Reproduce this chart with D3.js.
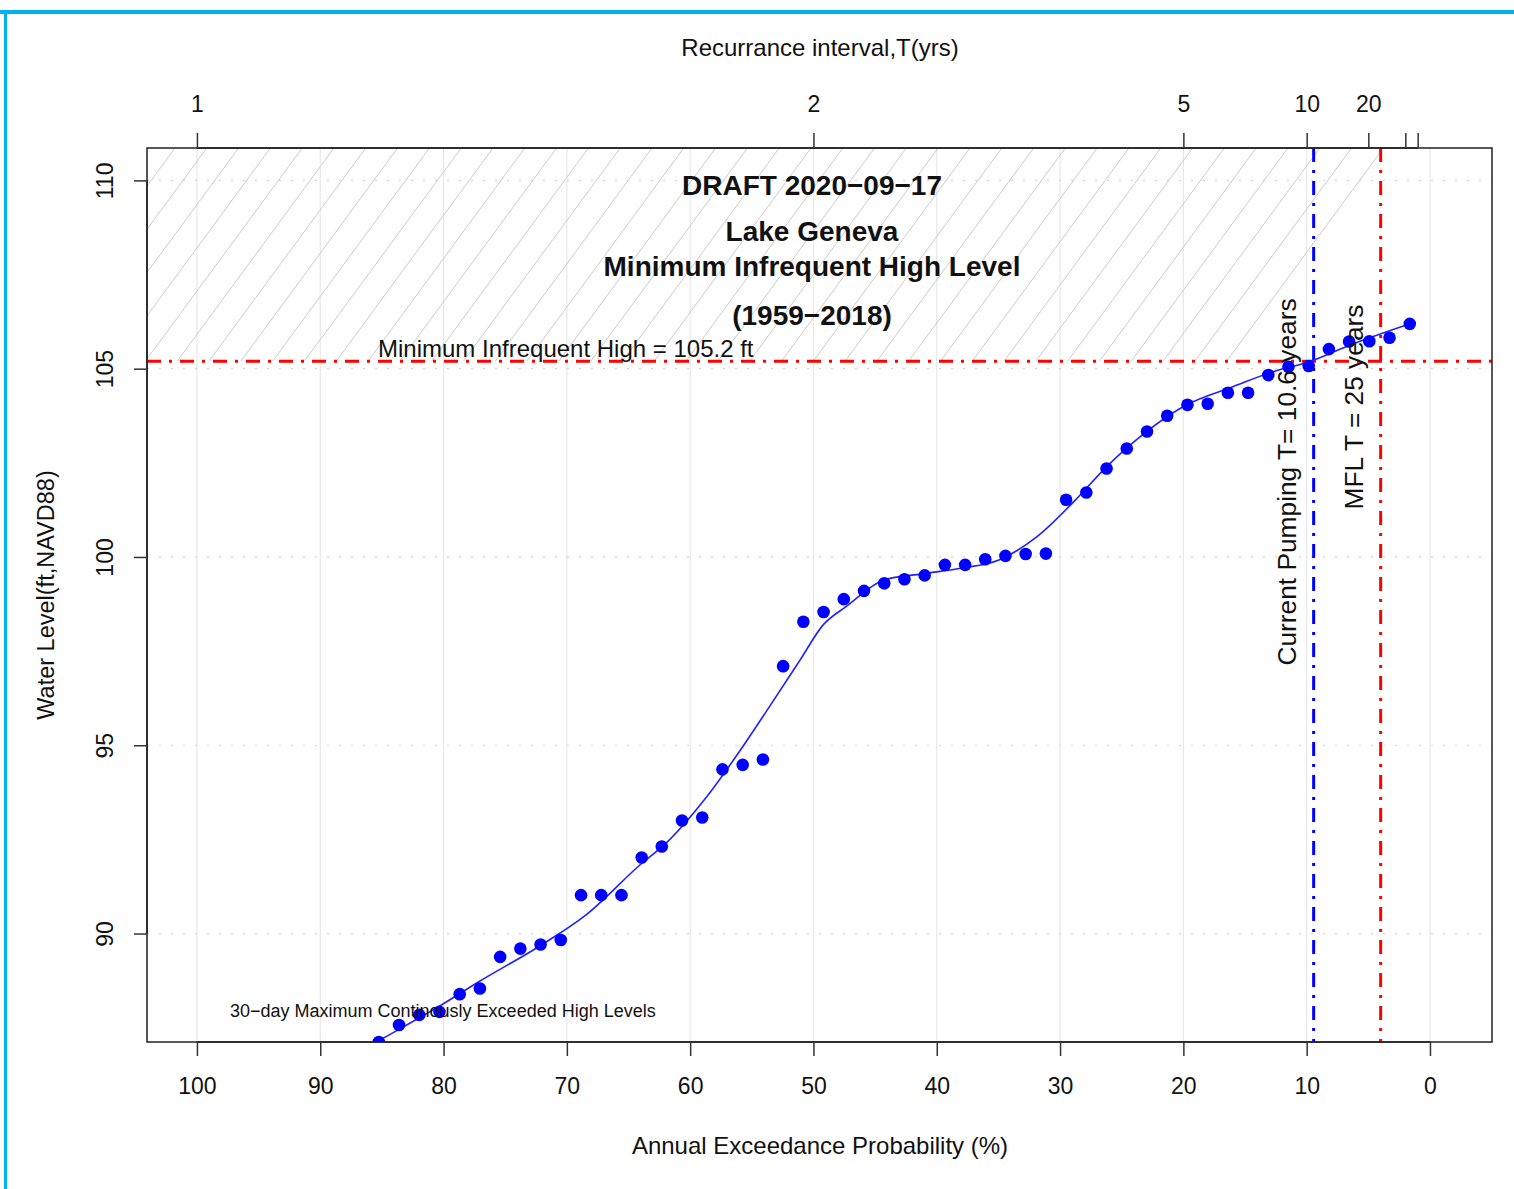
<!DOCTYPE html>
<html>
<head>
<meta charset="utf-8">
<script src="https://cdn.jsdelivr.net/npm/d3@7"></script>
<style>
  html, body { margin: 0; padding: 0; background: #fff; }
  svg { display: block; }
  text { font-family: "Liberation Sans", Arial, Helvetica, sans-serif; fill: #111; }
</style>
</head>
<body>
<svg id="chart" width="1514" height="1189"></svg>
<script>
// ---- data ----
const exceedProb = [1.64, 3.28, 4.92, 6.56, 8.20, 9.84, 11.48, 13.11, 14.75, 16.39,
  18.03, 19.67, 21.31, 22.95, 24.59, 26.23, 27.87, 29.51, 31.15, 32.79,
  34.43, 36.07, 37.70, 39.34, 40.98, 42.62, 44.26, 45.90, 47.54, 49.18,
  50.82, 52.46, 54.10, 55.74, 57.38, 59.02, 60.66, 62.30, 63.93, 65.57,
  67.21, 68.85, 70.49, 72.13, 73.77, 75.41, 77.05, 78.69, 80.33, 81.97,
  83.61, 85.25];
const waterLevel = [106.19, 105.82, 105.73, 105.72, 105.52, 105.07, 105.05, 104.83, 104.36, 104.36,
  104.07, 104.04, 103.75, 103.33, 102.88, 102.35, 101.71, 101.52, 100.09, 100.08,
  100.03, 99.94, 99.79, 99.79, 99.51, 99.41, 99.30, 99.10, 98.88, 98.54,
  98.28, 97.10, 94.62, 94.48, 94.36, 93.08, 93.00, 92.31, 92.02, 91.02,
  91.02, 91.02, 89.83, 89.71, 89.60, 89.38, 88.54, 88.39, 87.92, 87.84,
  87.57, 87.12];
const fitProb = [86.8, 85.28, 80.40, 77.14, 72.10, 68.47, 63.94, 61.95, 58.85, 55.74,
  53.58, 51.09, 49.23, 47.36, 44.27, 41.17, 38.06, 34.96, 31.87, 28.76,
  26.22, 22.98, 19.73, 15.98, 12.73, 9.73, 6.76, 1.62];
const fitLevel = [86.87, 87.15, 88.06, 88.72, 89.69, 90.49, 91.86, 92.40, 93.55, 94.96,
  96.02, 97.26, 98.19, 98.68, 99.39, 99.55, 99.70, 99.92, 100.54, 101.51,
  102.40, 103.33, 104.04, 104.52, 104.92, 105.19, 105.59, 106.19];
const xTicks = [100, 90, 80, 70, 60, 50, 40, 30, 20, 10, 0];
const yTicks = [90, 95, 100, 105, 110];
const topTicksT = [1, 2, 5, 10, 20, 50, 100];
const topTickLabels = ["1", "2", "5", "10", "20", "", ""];
const mihLevel = 105.2;
const currentPumpingT = 10.6;
const mflT = 25;
const titleLines = ["DRAFT 2020\u221209\u221217", "Lake Geneva", "Minimum Infrequent High Level", "(1959\u22122018)"];

// ---- layout ----
const L = 147, R = 1492, T = 148, B = 1042;
const svg = d3.select("#chart");
const x = d3.scaleLinear().domain([104.05, -5.03]).range([L, R]);
const y = d3.scaleLinear().domain([87.12, 110.86]).range([B, T]);

// outer frame (light blue)
svg.append("rect").attr("x", 0).attr("y", 10).attr("width", 1514).attr("height", 4).attr("fill", "#00b2ef");
svg.append("rect").attr("x", 4).attr("y", 10).attr("width", 3).attr("height", 1179).attr("fill", "#00b2ef");

const defs = svg.append("defs");
defs.append("clipPath").attr("id", "plotclip")
  .append("rect").attr("x", L).attr("y", T).attr("width", R - L).attr("height", B - T);
const hatchR = x(100 / mflT), hatchB = y(mihLevel);
defs.append("clipPath").attr("id", "hatchclip")
  .append("rect").attr("x", L).attr("y", T).attr("width", hatchR - L).attr("height", hatchB - T);

// grid
const grid = svg.append("g");
grid.selectAll("line.vg").data(xTicks).join("line")
  .attr("x1", d => x(d)).attr("x2", d => x(d)).attr("y1", T).attr("y2", B)
  .attr("stroke", "#e8e8e8").attr("stroke-width", 1.2);
grid.selectAll("line.hg").data(yTicks).join("line")
  .attr("x1", L).attr("x2", R).attr("y1", d => y(d)).attr("y2", d => y(d))
  .attr("stroke", "#d4d4d4").attr("stroke-width", 1.2).attr("stroke-dasharray", "2,10");

// hatch region (above MIH, left of MFL)
const hatch = svg.append("g").attr("clip-path", "url(#hatchclip)");
const tanA = 1.36, spacing = 31.8;
const hh = hatchB - T;
const hatchStarts = d3.range(175 - spacing * 12, hatchR + spacing, spacing);
hatch.selectAll("line").data(hatchStarts).join("line")
  .attr("x1", d => d).attr("y1", T)
  .attr("x2", d => d - hh / tanA).attr("y2", hatchB)
  .attr("stroke", "#cacaca").attr("stroke-width", 1);

// reference lines
const ref = svg.append("g").attr("clip-path", "url(#plotclip)");
const dash = "14,8,3,8";
ref.append("line").attr("x1", L).attr("x2", R).attr("y1", y(mihLevel)).attr("y2", y(mihLevel))
  .attr("stroke", "#ff0000").attr("stroke-width", 3).attr("stroke-dasharray", dash);
ref.append("line").attr("x1", x(100 / currentPumpingT)).attr("x2", x(100 / currentPumpingT)).attr("y1", T).attr("y2", B)
  .attr("stroke", "#0000ff").attr("stroke-width", 3).attr("stroke-dasharray", dash);
ref.append("line").attr("x1", x(100 / mflT)).attr("x2", x(100 / mflT)).attr("y1", T).attr("y2", B)
  .attr("stroke", "#ff0000").attr("stroke-width", 3).attr("stroke-dasharray", dash);

// fitted curve and points
const dataG = svg.append("g").attr("clip-path", "url(#plotclip)");
const fit = fitProb.map((p, i) => [p, fitLevel[i]]);
dataG.append("path").datum(fit)
  .attr("d", d3.line().x(d => x(d[0])).y(d => y(d[1])).curve(d3.curveMonotoneX))
  .attr("fill", "none").attr("stroke", "#2020ff").attr("stroke-width", 1.6);
const pts = exceedProb.map((p, i) => [p, waterLevel[i]]);
dataG.selectAll("circle").data(pts).join("circle")
  .attr("cx", d => x(d[0])).attr("cy", d => y(d[1])).attr("r", 6.3)
  .attr("fill", "#0000ff");

// box
svg.append("rect").attr("x", L).attr("y", T).attr("width", R - L).attr("height", B - T)
  .attr("fill", "none").attr("stroke", "#222").attr("stroke-width", 1.5);

// bottom axis
const xAxis = d3.axisBottom(x).tickValues(xTicks).tickSize(14).tickPadding(18).tickFormat(d3.format("d"));
const gx = svg.append("g").attr("transform", `translate(0,${B})`).call(xAxis);
gx.select(".domain").attr("d", `M${x(100)},0H${x(0)}`).attr("stroke", "#222").attr("stroke-width", 1.5);
gx.selectAll(".tick line").attr("stroke", "#333").attr("stroke-width", 1.5);
gx.selectAll(".tick text").attr("font-size", 23).attr("fill", "#111")
  .attr("font-family", "Liberation Sans, Arial, sans-serif").attr("dy", "0.85em");

// top axis (recurrence interval)
const tTop = topTicksT.map(t => 100 / t);
const topAxis = d3.axisTop(x).tickValues(tTop).tickSize(15).tickPadding(21)
  .tickFormat((d, i) => topTickLabels[i]);
const gt = svg.append("g").attr("transform", `translate(0,${T})`).call(topAxis);
gt.select(".domain").attr("d", `M${x(100)},0H${x(1)}`).attr("stroke", "#222").attr("stroke-width", 1.5);
gt.selectAll(".tick line").attr("stroke", "#333").attr("stroke-width", 1.5);
gt.selectAll(".tick text").attr("font-size", 23).attr("fill", "#111")
  .attr("font-family", "Liberation Sans, Arial, sans-serif");

// left axis
const yAxis = d3.axisLeft(y).tickValues(yTicks).tickSize(13).tickFormat(d3.format("d"));
const gy = svg.append("g").attr("transform", `translate(${L},0)`).call(yAxis);
gy.select(".domain").attr("d", `M0,${y(90)}V${y(110)}`).attr("stroke", "#222").attr("stroke-width", 1.5);
gy.selectAll(".tick line").attr("stroke", "#333").attr("stroke-width", 1.5);
gy.selectAll(".tick text").attr("font-size", 23).attr("fill", "#111")
  .attr("font-family", "Liberation Sans, Arial, sans-serif")
  .attr("x", null).attr("dy", null)
  .attr("transform", "translate(-42,0) rotate(-90)")
  .attr("text-anchor", "middle").attr("dominant-baseline", "central");

// axis titles
svg.append("text").attr("x", 820).attr("y", 47).attr("text-anchor", "middle")
  .attr("dominant-baseline", "central").attr("font-size", 24).text("Recurrance interval,T(yrs)");
svg.append("text").attr("x", 820).attr("y", 1145).attr("text-anchor", "middle")
  .attr("dominant-baseline", "central").attr("font-size", 24).text("Annual Exceedance Probability (%)");
svg.append("text").attr("transform", "translate(46,595) rotate(-90)").attr("text-anchor", "middle")
  .attr("dominant-baseline", "central").attr("font-size", 23.5).text("Water Level(ft,NAVD88)");

// title block
const titleY = [185, 231, 266, 315];
svg.selectAll("text.title").data(titleLines).join("text")
  .attr("class", "title").attr("x", 812).attr("y", (d, i) => titleY[i])
  .attr("text-anchor", "middle").attr("dominant-baseline", "central")
  .attr("font-size", 28).attr("font-weight", "bold").text(d => d);

// annotations
svg.append("text").attr("x", 378).attr("y", 348).attr("dominant-baseline", "central")
  .attr("font-size", 24).text("Minimum Infrequent High = " + mihLevel + " ft");
svg.append("text").attr("transform", "translate(1287,482) rotate(-90)").attr("text-anchor", "middle")
  .attr("dominant-baseline", "central").attr("font-size", 26.3).text("Current Pumping T= " + currentPumpingT + " years");
svg.append("text").attr("transform", "translate(1354,407) rotate(-90)").attr("text-anchor", "middle")
  .attr("dominant-baseline", "central").attr("font-size", 26.3).text("MFL T = " + mflT + " years");
svg.append("text").attr("x", 230).attr("y", 1011).attr("dominant-baseline", "central")
  .attr("font-size", 18).text("30\u2212day Maximum Continously Exceeded High Levels");
</script>
</body>
</html>
